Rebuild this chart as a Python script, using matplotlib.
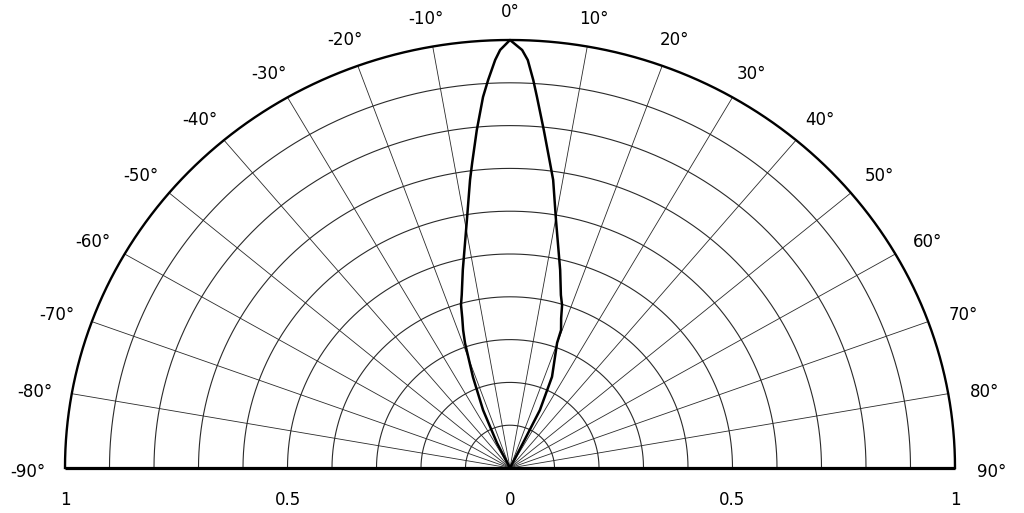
import numpy as np
import matplotlib.pyplot as plt

# grid + labels
ring_radii = [0.1, 0.2, 0.3, 0.4, 0.5, 0.6, 0.7, 0.8, 0.9]
spoke_deg = [-80, -70, -60, -50, -40, -30, -20, -10, 10, 20, 30, 40, 50, 60, 70, 80]
angle_ticks = [-90, -80, -70, -60, -50, -40, -30, -20, -10, 0, 10, 20, 30, 40, 50, 60, 70, 80, 90]
angle_labels = [f"{a}°" for a in angle_ticks]
radius_ticks = [(-90, 1.0, "1"), (-90, 0.5, "0.5"), (0, 0.0, "0"), (90, 0.5, "0.5"), (90, 1.0, "1")]

# beam pattern (angle in deg, relative amplitude)
lobe_deg = [-27, -26.6, -24.1, -21.4, -19.1, -18.1, -17.0, -16.1, -15.0, -12.9, -9.5, -7.6,
            -6.8, -5.4, -4.0, -3.1, -2.0, -1.3, 0,
            1.6, 2.4, 3.3, 4.0, 5.5, 7.2, 8.2, 10.1, 13.7, 15.8, 17.1, 18.2, 19.6, 19.9, 23.9,
            26.4, 26.6, 27]
lobe_r = [0.0, 0.065, 0.148, 0.228, 0.309, 0.339, 0.367, 0.397, 0.419, 0.475, 0.587, 0.679,
          0.718, 0.793, 0.869, 0.908, 0.954, 0.977, 1.0,
          0.977, 0.954, 0.908, 0.869, 0.793, 0.718, 0.680, 0.589, 0.476, 0.420, 0.398, 0.368,
          0.342, 0.311, 0.233, 0.151, 0.065, 0.0]


def to_xy(deg, r):
    t = np.radians(np.asarray(deg, dtype=float))
    r = np.asarray(r, dtype=float)
    return r * np.sin(t), r * np.cos(t)


plt.rcParams['font.family'] = 'DejaVu Sans'

fig = plt.figure(figsize=(10.24, 5.13), dpi=100)
ax = fig.add_axes([65 / 1024, (513 - 468) / 513, 890 / 1024, 428 / 513])
ax.set_xlim(-1, 1)
ax.set_ylim(0, 1)
ax.set_aspect('auto')
ax.axis('off')

arc = np.linspace(-90, 90, 721)
for r in ring_radii:
    x, y = to_xy(arc, np.full_like(arc, r))
    ax.plot(x, y, color='#2a2a2a', lw=0.8)
for a in spoke_deg:
    x, y = to_xy([a, a], [0, 1])
    ax.plot(x, y, color='#2a2a2a', lw=0.6)

# rim and baseline
x, y = to_xy(arc, np.ones_like(arc))
ax.plot(x, y, color='black', lw=1.7, clip_on=False)
x, y = to_xy([-90, 90], [1, 1])
ax.plot(x, y, color='black', lw=2.3, clip_on=False, solid_capstyle='butt')

x, y = to_xy(lobe_deg, lobe_r)
ax.plot(x, y, color='black', lw=1.8, clip_on=False)

for a, lab in zip(angle_ticks, angle_labels):
    t = np.radians(a)
    ax.annotate(lab, xy=to_xy(a, 1.0), xytext=(37 * np.sin(t), 32 * np.cos(t) - 4),
                textcoords='offset pixels', ha='center', va='center', fontsize=12,
                annotation_clip=False)

for a, r, lab in radius_ticks:
    ax.annotate(lab, xy=to_xy(a, r), xytext=(0, -32), textcoords='offset pixels',
                ha='center', va='center', fontsize=12, annotation_clip=False)

fig.savefig('out.png', dpi=100)
